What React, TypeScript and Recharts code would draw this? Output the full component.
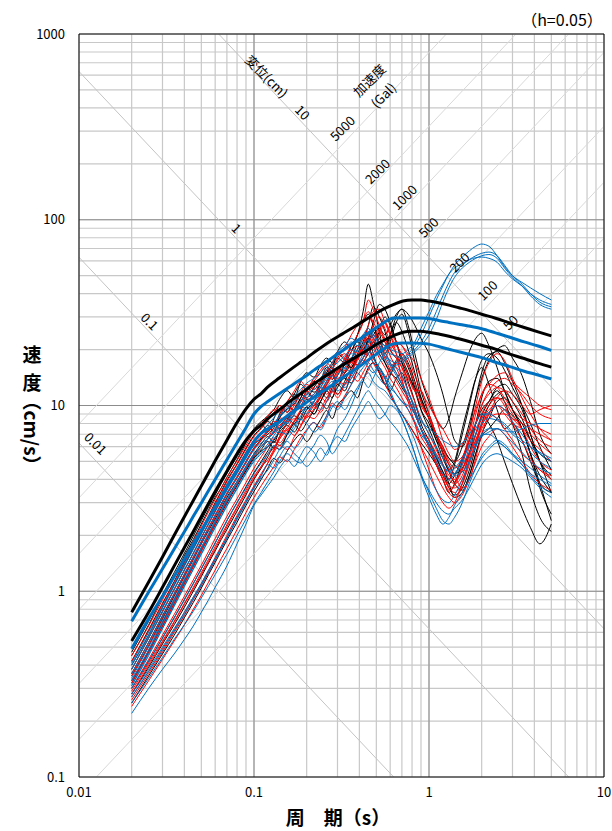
import { LineChart, Line, XAxis, YAxis, CartesianGrid, ReferenceLine } from "recharts"

// 周期 (s) — 観測記録
const periods = [
  0.02, 0.025, 0.03, 0.035, 0.04, 0.045, 0.05, 0.055, 0.06, 0.065, 0.07, 0.08, 0.09, 0.1,
  0.11, 0.12, 0.13, 0.14, 0.155, 0.17, 0.185, 0.2, 0.22, 0.24, 0.26, 0.28, 0.3, 0.33,
  0.36, 0.39, 0.42, 0.45, 0.48, 0.52, 0.56, 0.6, 0.65, 0.7, 0.76, 0.83, 0.9, 1.0,
  1.1, 1.2, 1.3, 1.4, 1.55, 1.7, 1.85, 2.0, 2.2, 2.45, 2.7, 3.0, 3.4, 3.8, 4.3, 5.0,
]

// 観測記録 (黒)
const k1 = [0.45, 0.66, 0.93, 1.2, 1.55, 1.9, 2.3, 2.75, 3.2, 3.6, 4.1, 5.1, 6.3, 7.4,
  8.0, 7.2, 8.5, 10, 9.2, 11.5, 13, 12, 11, 13.5, 16, 15, 13.5, 17,
  21, 24, 32, 45, 36, 25, 19, 22, 28, 31, 25, 17, 12, 9,
  7, 5.5, 4.5, 5, 7.5, 10.5, 14, 16, 13, 9.5, 7.5, 8, 6.5, 5, 3.8, 3.4]
const k2 = [0.4, 0.58, 0.82, 1.08, 1.38, 1.7, 2.05, 2.45, 2.85, 3.3, 3.75, 4.6, 5.6, 6.5,
  7.0, 7.8, 7.2, 8.6, 10, 9.4, 11, 12.5, 11.8, 13, 15.5, 14.5, 16, 15,
  17.5, 21, 19, 23, 26, 22, 20, 24, 30, 33, 27, 19, 14, 10.5,
  8.5, 7.5, 8.5, 11, 15, 19.5, 23, 24.5, 21, 16, 12, 9.5, 8, 6.5, 5.5, 5]
const k3 = [0.33, 0.48, 0.68, 0.9, 1.14, 1.4, 1.7, 2.0, 2.35, 2.7, 3.05, 3.75, 4.5, 5.3,
  5.8, 6.4, 5.9, 6.8, 7.8, 7.2, 8.5, 9.8, 9.0, 10.5, 12, 11, 13, 12,
  15, 18, 21, 23, 19, 15, 13, 12, 14, 15, 12, 9.5, 7.5, 6,
  4.8, 4.0, 3.4, 3.8, 5, 6.5, 8, 9, 8, 6.5, 5, 3.8, 2.8, 2.2, 1.8, 2.3]
const k4 = [0.36, 0.53, 0.74, 0.97, 1.23, 1.52, 1.85, 2.2, 2.55, 2.95, 3.35, 4.1, 5.0, 5.9,
  6.6, 7.3, 8.0, 7.5, 8.4, 9.6, 11, 12.5, 13, 12, 13.5, 15.5, 19, 17.5,
  16, 19, 22, 27, 34, 30, 25, 20, 18, 17, 14.5, 12.5, 11, 8.5,
  6.5, 5.8, 5.2, 4.8, 4.4, 5.5, 8, 11, 13.5, 14, 12, 9.5, 7.5, 5.5, 4.2, 3.4]
const k5 = [0.28, 0.39, 0.52, 0.66, 0.82, 1.0, 1.2, 1.42, 1.65, 1.9, 2.15, 2.7, 3.3, 4.0,
  4.6, 5.3, 6.0, 5.8, 7.0, 7.9, 7.3, 8.1, 9.4, 10.4, 9.6, 11, 12.5, 14,
  13.2, 15.5, 17, 19, 21, 25, 30, 27, 22, 18, 15, 12, 9.5, 8,
  6.5, 5.2, 4.4, 3.8, 3.5, 4.2, 5.5, 7, 8.5, 10.5, 11, 9.5, 7.5, 5.5, 3.8, 2.4]
const k6 = [0.47, 0.69, 0.96, 1.26, 1.6, 1.98, 2.4, 2.85, 3.3, 3.8, 4.3, 5.3, 6.4, 7.5,
  8.2, 8.8, 9.5, 10.8, 12, 11, 13.5, 15, 14.2, 16.5, 18, 17, 19.5, 22,
  20, 24, 28, 31, 27, 23, 21, 24, 28, 25, 20, 15, 11, 8.5,
  7, 6, 5.2, 5, 6, 8, 11, 14, 17.5, 20, 21, 18, 14.5, 10.5, 7, 5.5]
const k7 = [0.25, 0.35, 0.46, 0.58, 0.72, 0.87, 1.04, 1.23, 1.43, 1.65, 1.88, 2.35, 2.9, 3.45,
  4.0, 4.6, 5.2, 4.9, 5.7, 6.5, 7.0, 6.4, 7.3, 8.4, 9.4, 8.5, 10, 11,
  12, 11, 13.5, 16, 17, 15, 13, 14.5, 17, 18, 16, 12.5, 9.5, 7.5,
  6, 4.8, 3.8, 3.2, 3.4, 4.2, 5.5, 6.8, 7.5, 8.5, 9.5, 8.8, 7.5, 5.5, 3.6, 2.6]
const k8 = [0.42, 0.62, 0.86, 1.13, 1.44, 1.78, 2.15, 2.55, 3.0, 3.45, 3.95, 4.85, 5.9, 6.9,
  7.6, 8.2, 7.8, 9, 10.5, 11.5, 10.6, 12, 13.5, 13, 15, 16.5, 18, 17,
  19.5, 22, 20, 23, 28, 35, 33, 28, 22, 17, 13.5, 10.5, 8, 6.5,
  5.3, 4.4, 4.0, 4.8, 7, 10, 14, 17.5, 19, 18, 15.5, 12.5, 10, 8, 6, 4.5]
const k9 = [0.3, 0.42, 0.56, 0.72, 0.9, 1.1, 1.32, 1.56, 1.82, 2.1, 2.4, 3.0, 3.65, 4.35,
  5.0, 5.7, 6.4, 6.1, 7.0, 8.2, 9.2, 9.8, 9.0, 10.5, 12, 12.8, 11.5, 13.5,
  16, 18, 20, 22, 25, 21, 17, 15, 14, 12.5, 11, 9, 7.5, 6.2,
  5.2, 4.4, 3.8, 4.2, 5.2, 6.5, 8, 9.5, 10.5, 12, 10.5, 8, 5.5, 3.5, 2.5, 2.1]
const k10 = [0.38, 0.56, 0.78, 1.02, 1.3, 1.6, 1.95, 2.3, 2.7, 3.1, 3.55, 4.35, 5.3, 6.2,
  6.6, 7.0, 7.6, 8.6, 9.6, 10.2, 11.5, 11, 12.5, 14, 15, 13.8, 15.5, 17,
  16, 18, 20, 22, 24, 26, 24, 27, 31, 33, 31, 27, 23, 19,
  15, 11.5, 8.5, 6.5, 6, 7.5, 11, 15, 18.5, 19.5, 17, 13.5, 10, 7, 5, 4]
const k11 = [0.32, 0.47, 0.65, 0.86, 1.1, 1.36, 1.65, 1.95, 2.28, 2.62, 2.98, 3.7, 4.45, 5.2,
  5.7, 6.0, 6.5, 7.2, 8.0, 8.8, 8.4, 9.5, 10.5, 12, 11, 12.5, 14.5, 16.5,
  18, 16.5, 18, 20, 22, 19, 17, 15.5, 17.5, 19, 17, 13.5, 10.5, 8.5,
  6.8, 5.6, 4.8, 4.3, 4.6, 5.6, 7, 8.8, 10.5, 12.5, 13, 11.5, 9.5, 7, 5, 3.4]
const k12 = [0.35, 0.51, 0.71, 0.94, 1.2, 1.48, 1.8, 2.12, 2.45, 2.8, 3.2, 3.9, 4.7, 5.5,
  6.2, 6.8, 6.3, 7.4, 8.5, 8.0, 9.4, 10.8, 10, 11.2, 13, 14.5, 13, 15,
  18, 20, 24, 21, 18, 16, 14, 11.5, 10, 9, 8, 7, 6.3, 5.5,
  4.8, 4.2, 3.6, 3.3, 3.6, 4.5, 6, 8, 10, 11.5, 12, 10.5, 8.5, 6.5, 5, 4.2]

// 観測記録 (赤)
const r1 = [0.26, 0.36, 0.47, 0.6, 0.74, 0.9, 1.07, 1.26, 1.47, 1.7, 1.93, 2.45, 3.0, 3.6,
  4.2, 4.9, 5.7, 6.6, 7.4, 6.9, 7.7, 9.0, 10, 9.2, 10.5, 12, 11, 13,
  15, 17.5, 20, 24, 21, 18, 16, 14, 12.5, 11, 9.5, 8, 6.8, 5.8,
  4.8, 4.0, 3.4, 3.2, 3.8, 5, 6.5, 8, 9.5, 10, 9, 8, 7.5, 7, 6.2, 5.5]
const r2 = [0.35, 0.51, 0.72, 0.95, 1.2, 1.49, 1.8, 2.15, 2.5, 2.88, 3.3, 4.05, 4.9, 5.8,
  6.5, 7.5, 8.2, 7.8, 8.8, 10, 11.5, 12, 11, 12.5, 14.5, 16, 15, 18,
  21, 24, 28, 37, 33, 27, 22, 18.5, 16, 13.5, 11, 9, 7.5, 6,
  4.8, 4.0, 3.5, 3.7, 4.8, 6.5, 9, 11.5, 13, 12.5, 11, 9.5, 8.5, 8, 7.5, 7]
const r3 = [0.3, 0.43, 0.58, 0.75, 0.94, 1.15, 1.38, 1.64, 1.92, 2.22, 2.53, 3.15, 3.85, 4.6,
  5.3, 6.0, 6.7, 6.3, 7.2, 8.3, 9.5, 10.5, 11.5, 12.5, 11.5, 13, 15, 17.5,
  20, 18, 17, 20, 22, 25, 23, 20, 18, 16, 14, 12, 10, 8.5,
  7, 5.8, 4.8, 4.2, 3.6, 4, 5.2, 7, 9, 11, 12, 11.5, 10, 9, 9.5, 10]
const r4 = [0.42, 0.61, 0.85, 1.12, 1.42, 1.75, 2.12, 2.52, 2.95, 3.4, 3.88, 4.8, 5.8, 6.8,
  7.5, 8.3, 9.2, 10, 9.2, 10.5, 11.8, 13, 12.2, 13.5, 15.5, 17, 19.5, 18,
  17, 20, 23, 27, 32, 33, 28, 24, 21, 19, 16.5, 13, 10.5, 8.5,
  7, 6, 5, 4.6, 5.2, 7, 10, 13.5, 17, 19, 17.5, 14, 11, 9, 7.5, 6.5]
const r5 = [0.24, 0.33, 0.43, 0.54, 0.66, 0.8, 0.95, 1.12, 1.3, 1.5, 1.7, 2.15, 2.65, 3.2,
  3.7, 4.2, 4.7, 5.3, 5.0, 5.8, 6.7, 7.4, 8.1, 7.6, 8.8, 10.3, 9.8, 11.3,
  13, 15, 14, 15.5, 17, 15.5, 13, 11.5, 10, 9, 8, 7, 6, 5,
  4.2, 3.6, 3.2, 3.0, 3.3, 4, 5, 6, 6.8, 7.5, 7, 6, 5, 4.3, 3.8, 3.5]
const r6 = [0.38, 0.56, 0.78, 1.03, 1.3, 1.6, 1.95, 2.32, 2.72, 3.12, 3.55, 4.35, 5.3, 6.2,
  6.8, 7.2, 7.8, 8.8, 10, 9.3, 10.5, 12, 13.5, 15, 16.5, 14, 15.5, 17,
  19.5, 21, 19, 20, 23, 26, 28, 25, 22, 21, 19, 17, 14, 11,
  8.5, 6.5, 5.5, 5, 5.3, 6.5, 8, 10, 12, 13.5, 14, 13, 11.5, 10, 9, 8.5]
const r7 = [0.28, 0.4, 0.53, 0.68, 0.85, 1.03, 1.23, 1.45, 1.69, 1.95, 2.22, 2.8, 3.4, 4.05,
  4.7, 5.5, 5.9, 6.8, 7.6, 8.5, 7.9, 8.7, 10, 11, 10.5, 12, 13.5, 13,
  14, 16, 18, 20, 17, 15, 14, 16, 17, 14.5, 12, 9.5, 7.5, 6,
  5, 4.2, 3.6, 3.4, 3.8, 4.8, 6.2, 7.8, 9, 8.5, 7.5, 6.5, 5.5, 5, 4.5, 4]
const r8 = [0.32, 0.47, 0.65, 0.86, 1.1, 1.36, 1.65, 1.96, 2.3, 2.65, 3.02, 3.75, 4.55, 5.4,
  6.0, 6.6, 7.1, 7.8, 8.6, 9.5, 10.5, 11, 10.2, 11.5, 13, 14.5, 14, 15,
  16.5, 18.5, 21, 23, 27, 30, 26, 22, 19, 16, 13, 10.5, 8.5, 7,
  5.8, 4.8, 4.0, 3.8, 4.2, 5.5, 7, 8.5, 10, 11, 10.5, 9, 7.5, 6, 5, 4.5]
const r9 = [0.45, 0.65, 0.9, 1.19, 1.51, 1.86, 2.25, 2.68, 3.13, 3.6, 4.1, 5.05, 6.1, 7.2,
  8.0, 8.8, 9.5, 9.2, 10.5, 12, 13.5, 12.5, 14, 15.5, 17, 16, 18, 20.5,
  24, 27, 29, 32, 28, 25, 22, 20, 22, 21, 18, 14.5, 12, 10,
  8.5, 7.5, 6.5, 5.8, 6.2, 7.5, 9.5, 11.5, 13, 14.5, 15, 13.5, 12, 11, 10, 9.5]
const r10 = [0.27, 0.37, 0.49, 0.62, 0.77, 0.93, 1.1, 1.3, 1.52, 1.75, 2.0, 2.55, 3.1, 3.7,
  4.3, 4.9, 5.6, 6.1, 5.8, 6.8, 7.8, 8.8, 8.5, 9.5, 11, 12, 11.5, 13,
  14.5, 13.5, 15, 17, 19, 21, 18, 15.5, 13.5, 12, 10.5, 9, 7.5, 6.5,
  5.5, 4.8, 4.2, 4.0, 4.5, 5.5, 6.5, 7.8, 9, 10, 9.5, 8.5, 7.5, 6.5, 5.8, 5]
const r11 = [0.36, 0.53, 0.73, 0.97, 1.24, 1.53, 1.85, 2.2, 2.58, 2.96, 3.38, 4.15, 5.0, 5.9,
  6.5, 7.2, 7.8, 8.6, 8.2, 9.0, 10.5, 12, 13, 12, 13.5, 15.5, 17.5, 19,
  17, 18.5, 21, 26, 23, 20, 18, 20.5, 21, 18, 14.5, 12, 12, 9,
  7, 5.5, 4.5, 3.9, 4.5, 6, 8, 10, 11.5, 12.5, 12, 10.5, 9, 7.5, 6.5, 6]
const r12 = [0.29, 0.41, 0.54, 0.69, 0.86, 1.05, 1.26, 1.49, 1.74, 2.0, 2.28, 2.85, 3.5, 4.15,
  4.7, 5.1, 5.8, 6.6, 7.4, 8.2, 9.1, 8.6, 9.6, 11, 12.5, 11.8, 13.5, 15.5,
  17.5, 16.5, 18, 21, 24, 22, 19.5, 17, 15, 13, 11, 9, 7.5, 6,
  5, 4.2, 3.7, 3.6, 4.0, 5, 6.2, 7.5, 8.5, 9, 9, 8.5, 8, 7.5, 7, 6.5]
const r13 = [0.33, 0.48, 0.67, 0.88, 1.12, 1.38, 1.68, 2.0, 2.33, 2.68, 3.05, 3.78, 4.55, 5.35,
  6.0, 6.6, 7.5, 7.0, 8.2, 9.5, 10, 11.5, 12.5, 11.5, 12.8, 14.5, 16, 14.5,
  15.5, 18, 20, 19, 22, 24, 28, 24, 19, 14, 10.5, 8, 6, 4.5,
  3.5, 3.0, 2.8, 3.0, 3.8, 5.2, 7, 9, 10.5, 11, 10, 8, 6.5, 5.2, 4.5, 4.2]

// 観測記録 (青)
const b1 = [0.22, 0.3, 0.38, 0.46, 0.55, 0.65, 0.77, 0.9, 1.05, 1.2, 1.37, 1.8, 2.3, 2.9,
  3.3, 3.7, 4.1, 4.6, 5.1, 4.7, 5.4, 6.0, 5.6, 5.0, 5.6, 6.3, 6.8, 6.4,
  7.5, 8.5, 9.5, 10.5, 9.5, 8.5, 9, 10, 9.5, 8.5, 7, 5.5, 4.2, 3.2,
  2.6, 2.3, 2.5, 2.9, 3.4, 4, 4.6, 5.2, 5.8, 6.3, 6, 5.4, 4.8, 4.2, 3.7, 3.4]
const b2 = [0.3, 0.42, 0.56, 0.72, 0.9, 1.1, 1.32, 1.56, 1.82, 2.1, 2.4, 3.0, 3.6, 4.3,
  4.9, 5.5, 6.1, 5.8, 6.6, 7.5, 8.4, 8.0, 7.2, 7.8, 8.8, 10, 9.5, 11,
  13, 14.5, 16, 17, 15.5, 14, 13, 15, 16, 14.5, 12, 9.5, 7.5, 6,
  5, 4.3, 4.0, 4.3, 5, 6.2, 7.5, 8.5, 9.2, 10, 9.5, 8.2, 7, 6, 5.5, 5]
const b3 = [0.25, 0.34, 0.44, 0.55, 0.66, 0.78, 0.92, 1.07, 1.23, 1.4, 1.58, 2.0, 2.45, 2.95,
  3.4, 3.9, 4.4, 5.0, 5.5, 5.1, 4.9, 5.4, 6.1, 6.9, 6.4, 5.5, 6.0, 7.0,
  8.2, 9.5, 11, 12, 11, 10, 9, 8.2, 7.5, 6.8, 6, 5, 4.2, 3.5,
  3.0, 2.7, 2.6, 2.8, 3.1, 3.6, 4.2, 4.8, 5.3, 5.5, 5.3, 5, 4.6, 4.1, 3.6, 3.2]
const b4 = [0.4, 0.58, 0.81, 1.07, 1.36, 1.68, 2.03, 2.4, 2.8, 3.2, 3.65, 4.5, 5.4, 6.3,
  7.0, 7.5, 8.0, 8.8, 9.8, 10.5, 9.6, 9.0, 10.5, 12.5, 12, 13, 14.5, 16,
  15, 16.5, 19, 22, 24, 21, 18.5, 16.5, 14.5, 13, 11, 9, 7.5, 6.2,
  5.3, 4.7, 4.4, 4.6, 5.2, 6, 7, 8, 8.5, 8.3, 7.8, 7, 6.3, 5.6, 5, 4.6]
const b5 = [0.33, 0.48, 0.67, 0.89, 1.13, 1.4, 1.7, 2.02, 2.36, 2.7, 3.08, 3.8, 4.6, 5.4,
  6.0, 6.6, 7.2, 7.6, 8.2, 9.2, 10, 9.5, 10.5, 11.5, 12.5, 13.5, 12, 13,
  14.5, 16.5, 18, 20, 18, 16, 14.5, 13, 11.5, 10.5, 9.5, 8.2, 7, 6.2,
  5.4, 4.8, 4.4, 4.3, 4.8, 5.6, 6.3, 6.8, 7.2, 7.5, 7.3, 7.2, 7.5, 7.8, 8, 8]
const b6 = [0.27, 0.37, 0.48, 0.61, 0.75, 0.91, 1.08, 1.27, 1.48, 1.7, 1.93, 2.45, 3.0, 3.6,
  4.1, 4.5, 5.1, 5.8, 6.4, 5.9, 6.4, 7.3, 8.1, 7.4, 8.5, 9.8, 10.5, 9.5,
  11, 12.5, 14, 15, 13.5, 12.5, 12, 11, 10, 9, 7.8, 6.5, 5.2, 4.2,
  3.5, 3.1, 3.0, 3.3, 4, 5, 6, 7, 7, 6.5, 6, 5.5, 5, 4.6, 4.2, 3.8]
const b7 = [0.36, 0.53, 0.73, 0.97, 1.23, 1.52, 1.84, 2.18, 2.55, 2.93, 3.33, 4.1, 4.95, 5.8,
  6.3, 6.6, 7.3, 8.2, 8.0, 9.0, 10.5, 11.5, 10.8, 12, 13.5, 14.5, 13.5, 16,
  18, 20, 22, 19, 17, 15.5, 14, 12.5, 11.5, 10.5, 10, 9, 8.2, 7.5,
  7, 6.5, 6.2, 6, 6.3, 7, 8, 9, 9, 8.5, 8, 7.2, 6.5, 6, 5.6, 5.2]
const b8 = [0.28, 0.38, 0.5, 0.63, 0.77, 0.93, 1.1, 1.3, 1.5, 1.72, 1.95, 2.5, 3.05, 3.65,
  4.2, 4.8, 4.6, 5.3, 6.0, 5.5, 5.1, 4.7, 5.2, 5.9, 5.4, 6.4, 7.5, 8.5,
  10, 12, 13.5, 12.5, 14, 16, 14, 12, 10, 8.5, 7, 5.5, 4.3, 3.4,
  2.8, 2.4, 2.3, 2.5, 3.0, 3.8, 4.6, 5.4, 6, 6.5, 6.2, 5.5, 4.8, 4.3, 4, 3.7]
const b9 = [0.31, 0.45, 0.63, 0.83, 1.06, 1.31, 1.58, 1.88, 2.2, 2.52, 2.87, 3.55, 4.3, 5.0,
  5.5, 6.0, 6.6, 7.2, 7.0, 7.8, 8.8, 9.8, 10.5, 9.5, 10.5, 12, 13.5, 12.5,
  14, 16, 17.5, 16, 15, 17, 19, 17, 15, 13, 11.5, 10, 8.5, 7,
  6, 5.2, 4.6, 4.2, 4.4, 5, 6, 7, 7.5, 7.5, 7, 6.3, 5.6, 5, 4.6, 4.3]
// 長周期成分が卓越する記録 (青)
const s1 = [0.38, 0.56, 0.77, 1.02, 1.3, 1.6, 1.93, 2.3, 2.68, 3.08, 3.5, 4.3, 5.2, 6.1,
  6.7, 7.3, 8.0, 8.7, 9.5, 10.5, 11.5, 12.5, 13, 14, 15.5, 17, 18.5, 20,
  22, 21, 23, 25, 23, 21, 20, 19, 18.5, 18, 19, 21, 24, 30,
  37, 44, 51, 57, 63, 68, 72, 74, 72, 64, 56, 50, 46, 43, 40, 37]
const s2 = [0.34, 0.5, 0.69, 0.91, 1.16, 1.43, 1.73, 2.05, 2.4, 2.76, 3.14, 3.88, 4.7, 5.5,
  6.0, 6.6, 7.3, 8.0, 8.8, 9.6, 10.5, 11.5, 12.2, 13, 14.5, 16, 17, 18.5,
  20, 19.5, 21, 22.5, 21, 19.5, 18.5, 17.5, 17, 17.5, 18.5, 20, 22, 26,
  32, 39, 46, 52, 57, 61, 64, 66, 67, 64, 57, 50, 45, 40, 36, 34]
const s3 = [0.31, 0.46, 0.63, 0.84, 1.07, 1.32, 1.6, 1.9, 2.22, 2.55, 2.9, 3.6, 4.35, 5.1,
  5.6, 6.2, 6.9, 7.6, 8.4, 9.2, 10, 11, 11.5, 12.5, 14, 15.5, 16, 17.5,
  19, 18.5, 19.5, 21, 20, 18.5, 17.5, 16.5, 16.5, 17, 18, 19.5, 21, 24,
  29, 36, 43, 49, 55, 59, 62, 64, 65, 62, 55, 49, 44, 39, 35, 33]
const s4 = [0.41, 0.6, 0.83, 1.1, 1.4, 1.72, 2.08, 2.47, 2.88, 3.3, 3.76, 4.6, 5.55, 6.5,
  7.2, 7.9, 8.6, 9.4, 10.2, 11.2, 12.2, 13.2, 14, 15, 16.5, 18, 19.5, 21,
  23, 22, 24, 26, 24, 22, 21, 20, 19.5, 19, 20, 22, 26, 32,
  39, 45, 51, 55, 58, 61, 62.5, 63, 62, 59, 53, 48, 44, 40, 37, 35]

// 設計用スペクトル
const designPeriods = [
  0.02, 0.025, 0.03, 0.035, 0.04, 0.045, 0.05, 0.06, 0.07, 0.08,
  0.09, 0.1, 0.11, 0.12, 0.14, 0.16, 0.18, 0.2, 0.22, 0.25,
  0.28, 0.32, 0.36, 0.4, 0.45, 0.5, 0.56, 0.63, 0.71, 0.8,
  0.9, 1.0, 1.15, 1.3, 1.5, 1.75, 2.0, 2.4, 2.9, 3.5,
  4.2, 5.0,
]
const blackUpper = [0.77, 1.12, 1.53, 2.0, 2.52, 3.08, 3.69, 5.04, 6.5, 8.1, 9.6, 10.8, 11.6, 12.6, 14.1, 15.5, 16.8, 18.0, 19.3, 21.0, 22.5, 24.3, 26.0, 27.6, 29.6, 31.4, 33.3, 35.0, 36.5, 37.0, 37.0, 36.5, 35.6, 34.7, 33.5, 32.2, 31.0, 29.5, 27.8, 26.3, 24.9, 23.7]
const blackLower = [0.54, 0.77, 1.05, 1.37, 1.72, 2.1, 2.52, 3.44, 4.43, 5.5, 6.5, 7.3, 7.85, 8.5, 9.5, 10.5, 11.4, 12.2, 13.1, 14.2, 15.2, 16.5, 17.6, 18.7, 20.0, 21.3, 22.6, 23.8, 24.8, 25.1, 25.1, 24.8, 24.2, 23.6, 22.8, 21.9, 21.1, 20.1, 18.9, 17.9, 16.9, 16.1]
const blueUpper = [0.69, 0.99, 1.32, 1.69, 2.09, 2.53, 2.99, 4.0, 5.1, 6.3, 7.6, 9.0, 9.9, 10.5, 11.6, 12.6, 13.6, 14.5, 15.5, 16.8, 18.1, 19.7, 21.3, 22.7, 24.5, 26.2, 28.2, 29.6, 29.6, 29.6, 29.6, 29.4, 28.6, 28.0, 27.3, 26.6, 25.9, 24.6, 23.3, 22.0, 20.9, 19.8]
const blueLower = [0.49, 0.71, 0.94, 1.2, 1.49, 1.8, 2.13, 2.84, 3.62, 4.5, 5.4, 6.4, 7.1, 7.5, 8.2, 9.0, 9.7, 10.4, 11.1, 12.0, 12.9, 14.1, 15.2, 16.2, 17.6, 18.9, 20.4, 21.5, 21.7, 21.7, 21.6, 21.4, 20.7, 20.1, 19.4, 18.7, 18.1, 17.1, 16.2, 15.3, 14.6, 13.9]

// 軸
const xDecades = [0.01, 0.1, 1, 10]
const yDecades = [0.1, 1, 10, 100, 1000]
const minorSteps = [1, 2, 3, 4, 5, 6, 7, 8, 9]
const dispLines = [0.01, 0.1, 1, 10] // 変位 (cm)
const accLines = [50, 100, 200, 500, 1000, 2000, 5000] // 加速度 (Gal)

const FONT = "'Noto Sans CJK JP', 'Noto Sans', sans-serif"
const BLACK = "#000000"
const RED = "#ff0000"
const BLUE = "#0070c0"

const thinSeries = [
  ...[k1, k2, k3, k4, k5, k6, k7, k8, k9, k10, k11, k12].map((values, i) => ({ key: `k${i}`, values, color: BLACK })),
  ...[r1, r2, r3, r4, r5, r6, r7, r8, r9, r10, r11, r12, r13].map((values, i) => ({ key: `r${i}`, values, color: RED })),
  ...[b1, b2, b3, b4, b5, b6, b7, b8, b9, s1, s2, s3, s4].map((values, i) => ({ key: `b${i}`, values, color: BLUE })),
]
const thickSeries = [
  { key: "hb1", values: blueLower, color: BLUE },
  { key: "hk1", values: blackLower, color: BLACK },
  { key: "hb0", values: blueUpper, color: BLUE },
  { key: "hk0", values: blackUpper, color: BLACK },
]

const rows = periods.map((t, i) => {
  const row: Record<string, number> = { t }
  for (const s of thinSeries) row[s.key] = s.values[i]
  return row
})
const designRows = designPeriods.map((t, i) => {
  const row: Record<string, number> = { t }
  for (const s of thickSeries) row[s.key] = s.values[i]
  return row
})

const xTicks = xDecades.slice(0, -1).flatMap((d) => minorSteps.map((m) => +(d * m).toPrecision(3))).concat([10])
const yTicks = yDecades.slice(0, -1).flatMap((d) => minorSteps.map((m) => +(d * m).toPrecision(3))).concat([1000])
const isDecade = (v: number) => Math.abs(Math.log10(v) - Math.round(Math.log10(v))) < 1e-6

// log V = log c + s * log T, clipped to the plot domain
function segment(c: number, s: number) {
  const lc = Math.log10(c)
  const pts: number[][] = []
  for (const lt of [-2, 1]) {
    const lv = lc + s * lt
    if (lv >= -1 - 1e-9 && lv <= 3 + 1e-9) pts.push([lt, lv])
  }
  for (const lv of [-1, 3]) {
    const lt = (lv - lc) / s
    if (lt >= -2 - 1e-9 && lt <= 1 + 1e-9) pts.push([lt, lv])
  }
  pts.sort((a, b) => a[0] - b[0])
  const a = pts[0]
  const b = pts[pts.length - 1]
  return [
    { x: 10 ** a[0], y: 10 ** a[1] },
    { x: 10 ** b[0], y: 10 ** b[1] },
  ]
}

const diagLabels = [
  { text: "変位(cm)", x: 267, y: 76, r: 45 },
  { text: "10", x: 303, y: 112, r: 45 },
  { text: "1", x: 237, y: 228, r: 45 },
  { text: "0.1", x: 150, y: 321, r: 45 },
  { text: "0.01", x: 96, y: 443, r: 45 },
  { text: "加速度", x: 369, y: 80, r: -45 },
  { text: "(Gal)", x: 383, y: 95, r: -45 },
  { text: "5000", x: 342, y: 128, r: -45 },
  { text: "2000", x: 377, y: 171, r: -45 },
  { text: "1000", x: 404, y: 197, r: -45 },
  { text: "500", x: 428, y: 227, r: -45 },
  { text: "200", x: 459, y: 262, r: -45 },
  { text: "100", x: 487, y: 290, r: -45 },
  { text: "50", x: 510, y: 322, r: -45 },
]

export default function App() {
  return (
    <div style={{ position: "absolute", left: 0, top: 0, width: 612, height: 831, background: "#fff" }}>
      <LineChart width={612} height={831} data={rows} margin={{ top: 34, right: 8, bottom: 24, left: 29 }}>
        <CartesianGrid stroke="#c8c8c8" strokeWidth={1.2} />
        {xDecades.slice(1, -1).map((v) => (
          <ReferenceLine key={`xd${v}`} x={v} stroke="#8c8c8c" strokeWidth={1} ifOverflow="visible" />
        ))}
        {yDecades.slice(1, -1).map((v) => (
          <ReferenceLine key={`yd${v}`} y={v} stroke="#8c8c8c" strokeWidth={1} ifOverflow="visible" />
        ))}
        {dispLines.map((d) => (
          <ReferenceLine key={`d${d}`} segment={segment(2 * Math.PI * d, -1)} stroke="#c4c4c4" strokeWidth={1} ifOverflow="visible" />
        ))}
        {accLines.map((a) => (
          <ReferenceLine key={`a${a}`} segment={segment(a / (2 * Math.PI), 1)} stroke="#d9d9d9" strokeWidth={1} ifOverflow="visible" />
        ))}
        <XAxis
          dataKey="t"
          type="number"
          scale="log"
          domain={[0.01, 10]}
          allowDataOverflow
          ticks={xTicks}
          interval={0}
          tickFormatter={(v: number) => (isDecade(v) ? String(v) : "")}
          tick={{ fontSize: 13, fill: "#000", fontFamily: FONT }}
          axisLine={false}
          tickLine={false}
          tickSize={0}
          tickMargin={11}
          height={30}
        />
        <YAxis
          type="number"
          scale="log"
          domain={[0.1, 1000]}
          allowDataOverflow
          ticks={yTicks}
          interval={0}
          tickFormatter={(v: number) => (isDecade(v) ? String(v) : "")}
          tick={{ fontSize: 13, fill: "#000", fontFamily: FONT }}
          axisLine={false}
          tickLine={false}
          tickSize={0}
          tickMargin={14}
          width={50}
        />
        {thinSeries.map((s) => (
          <Line key={s.key} dataKey={s.key} type="monotone" stroke={s.color} strokeWidth={1} dot={false} isAnimationActive={false} />
        ))}
        {thickSeries.map((s) => (
          <Line key={s.key} data={designRows} dataKey={s.key} type="monotone" stroke={s.color} strokeWidth={3} dot={false} isAnimationActive={false} />
        ))}
        <ReferenceLine x={0.01} stroke="#000" ifOverflow="visible" />
        <ReferenceLine x={10} stroke="#000" ifOverflow="visible" />
        <ReferenceLine y={0.1} stroke="#000" ifOverflow="visible" />
        <ReferenceLine y={1000} stroke="#000" ifOverflow="visible" />
      </LineChart>
      <svg width={612} height={831} style={{ position: "absolute", left: 0, top: 0, pointerEvents: "none" }}>
        <g fontFamily={FONT} fill="#000">
          <text x={562} y={26} fontSize={16} textAnchor="middle">（h=0.05）</text>
          {diagLabels.map((l) => (
            <text
              key={l.text}
              transform={`translate(${l.x},${l.y}) rotate(${l.r})`}
              fontSize={13}
              textAnchor="middle"
              dominantBaseline="central"
            >
              {l.text}
            </text>
          ))}
          <text x={338} y={825} fontSize={19} fontWeight="bold" textAnchor="middle">周　期（s）</text>
          <text x={32} y={362} fontSize={19} fontWeight="bold" textAnchor="middle">速</text>
          <text x={32} y={390} fontSize={19} fontWeight="bold" textAnchor="middle">度</text>
          <text transform="translate(32,433) rotate(90)" fontSize={19} fontWeight="bold" textAnchor="middle" dominantBaseline="central">（cm/s）</text>
        </g>
      </svg>
    </div>
  )
}
